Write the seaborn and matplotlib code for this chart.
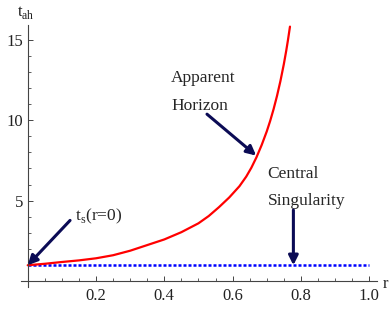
# libraries
import numpy as np
import matplotlib
matplotlib.use('Agg')
import matplotlib.pyplot as plt
import matplotlib.ticker as mticker
import pandas as pd
import seaborn as sns

# values
r_ah = [0.0, 0.05, 0.1, 0.15, 0.2, 0.25, 0.3, 0.35, 0.4, 0.45, 0.5, 0.53, 0.56, 0.59,
        0.62, 0.64, 0.655, 0.67, 0.685, 0.70, 0.71, 0.72, 0.73, 0.74, 0.75, 0.757, 0.762, 0.768]
t_ah = [1.0, 1.09, 1.2, 1.3, 1.43, 1.62, 1.9, 2.25, 2.6, 3.05, 3.6, 4.05, 4.6, 5.2,
        5.9, 6.5, 7.05, 7.7, 8.45, 9.3, 9.95, 10.68, 11.5, 12.42, 13.47, 14.3, 14.95, 15.8]
r_cs = [0.0, 1.0]
t_cs = [1.0, 1.0]
x_ticks = [0.2, 0.4, 0.6, 0.8, 1.0]
y_ticks = [5, 10, 15]

ah = pd.DataFrame({'r': r_ah, 't': t_ah})
cs = pd.DataFrame({'r': r_cs, 't': t_cs})

sns.set_style('white')
plt.rcParams['font.family'] = ['Liberation Serif', 'DejaVu Serif']
plt.rcParams['mathtext.fontset'] = 'custom'
plt.rcParams['mathtext.rm'] = 'Liberation Serif'

fig = plt.figure(figsize=(3.89, 3.11), dpi=100)
ax = fig.add_axes([0.0537, 0.0772, 0.9147, 0.8424])

sns.lineplot(data=cs, x='r', y='t', ax=ax, color='#0000ff', lw=1.8,
             dashes=False, estimator=None, sort=False)
ax.lines[-1].set_dashes((1.2, 0.8))
sns.lineplot(data=ah, x='r', y='t', ax=ax, color='#ff0000', lw=1.6,
             estimator=None, sort=False)

ax.set_xlim(-0.02, 1.022)
ax.set_ylim(-0.35, 15.9)

# axes through the origin, Mathematica style
for s in ['top', 'right']:
    ax.spines[s].set_visible(False)
ax.spines['left'].set_position(('data', 0))
ax.spines['bottom'].set_position(('data', 0))
for s in ['left', 'bottom']:
    ax.spines[s].set_color('#444444')
    ax.spines[s].set_linewidth(0.8)

ax.set_xticks(x_ticks)
ax.set_xticklabels(['0.2', '0.4', '0.6', '0.8', '1.0'])
ax.set_yticks(y_ticks)
ax.xaxis.set_minor_locator(mticker.MultipleLocator(0.05))
ax.yaxis.set_minor_locator(mticker.MultipleLocator(1))
ax.tick_params(axis='both', which='both', bottom=True, left=True)
ax.tick_params(axis='both', which='major', direction='in', length=3.5, width=0.7,
               color='#444444', labelsize=12, labelcolor='#222222')
ax.tick_params(axis='both', which='minor', direction='in', length=2, width=0.6,
               color='#444444')
ax.tick_params(axis='x', which='major', pad=5)
ax.tick_params(axis='y', which='major', pad=3)
ax.set_xlabel('')
ax.set_ylabel('')

# axis names
ax.text(1.047, -0.16, 'r', fontsize=12, ha='center', va='center', clip_on=False, color='#222222')
ax.text(-0.005, 16.7, r'$\mathrm{t}_{\mathrm{ah}}$', fontsize=12, ha='center', va='center',
        clip_on=False, color='#222222')

# labels and arrows
navy = '#0b0b55'
aprops = dict(arrowstyle='-|>', color=navy, lw=2.2, mutation_scale=14, shrinkA=0, shrinkB=0)
ax.text(0.42, 12.34, 'Apparent', fontsize=12.5, ha='left', va='baseline')
ax.text(0.42, 10.62, 'Horizon', fontsize=12.5, ha='left', va='baseline')
ax.annotate('', xy=(0.669, 7.8), xytext=(0.525, 10.37), arrowprops=aprops)

ax.text(0.702, 6.39, 'Central', fontsize=12.5, ha='left', va='baseline')
ax.text(0.702, 4.73, 'Singularity', fontsize=12.5, ha='left', va='baseline')
ax.annotate('', xy=(0.778, 1.0), xytext=(0.778, 4.42), arrowprops=aprops)

ax.text(0.138, 3.76, r'$\mathrm{t}_{\mathrm{s}}$(r=0)', fontsize=12.5, ha='left', va='baseline')
ax.annotate('', xy=(0.0, 1.0), xytext=(0.124, 3.78), arrowprops=aprops)

plt.savefig('out.png', dpi=100)
